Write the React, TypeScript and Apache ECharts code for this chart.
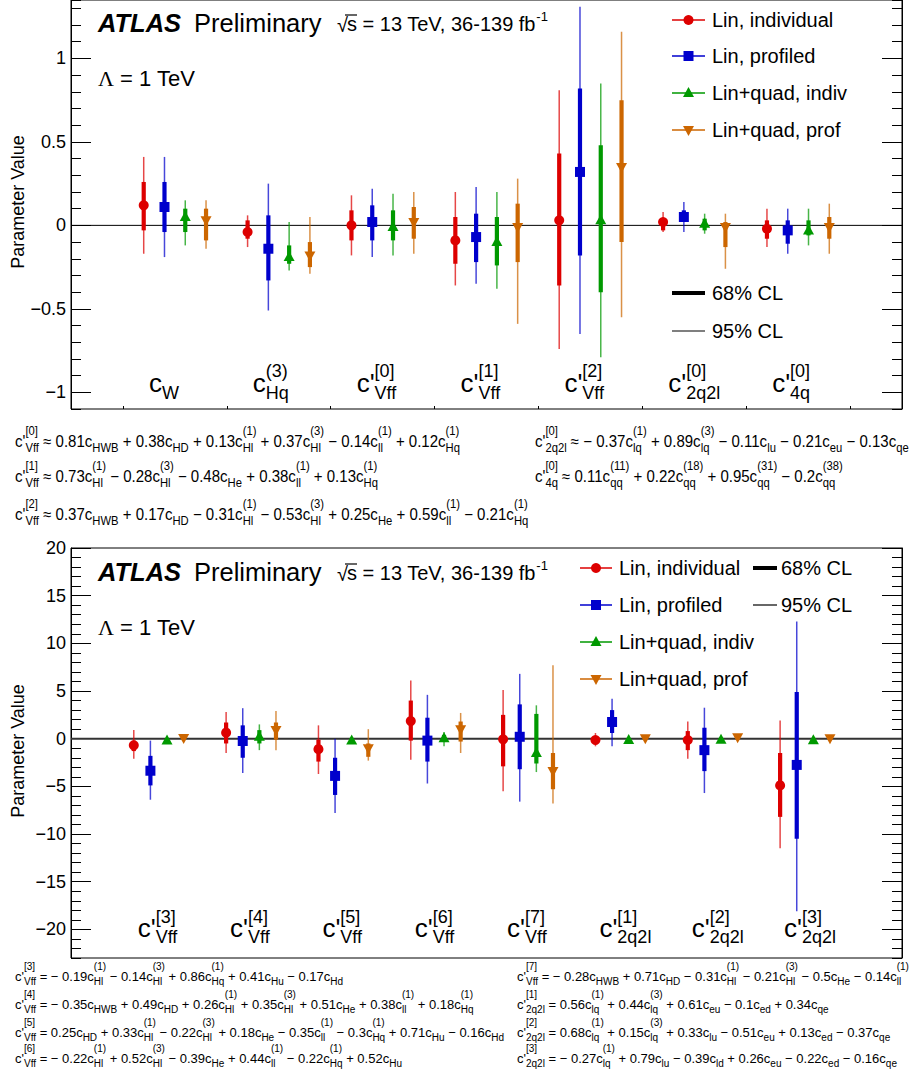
import React, { useEffect, useRef } from "react";
import * as echarts from "echarts";

const FAM = '"Liberation Sans", Arial, Helvetica, sans-serif';

// ---------------- DATA ----------------
const seriesNames = ["Lin, individual", "Lin, profiled", "Lin+quad, indiv", "Lin+quad, prof"];
const seriesColors = ["#dd0000", "#0000cc", "#009900", "#cc6600"];
const seriesMarkers = ["circle", "square", "triangleUp", "triangleDown"];

const topCategories = ["c_{W}", "c^{(3)}_{Hq}", "c'^{[0]}_{Vff}", "c'^{[1]}_{Vff}", "c'^{[2]}_{Vff}", "c'^{[0]}_{2q2l}", "c'^{[0]}_{4q}"];
const bottomCategories = ["c'^{[3]}_{Vff}", "c'^{[4]}_{Vff}", "c'^{[5]}_{Vff}", "c'^{[6]}_{Vff}", "c'^{[7]}_{Vff}", "c'^{[1]}_{2q2l}", "c'^{[2]}_{2q2l}", "c'^{[3]}_{2q2l}"];

// [central, lo68, hi68, lo95, hi95]
const topLinIndividual = [
  [0.12, -0.03, 0.26, -0.17, 0.41],
  [-0.04, -0.08, 0.03, -0.13, 0.06],
  [0.0, -0.09, 0.09, -0.18, 0.18],
  [-0.09, -0.23, 0.05, -0.36, 0.2],
  [0.03, -0.36, 0.43, -0.74, 0.81],
  [0.02, -0.03, 0.04, -0.04, 0.08],
  [-0.02, -0.08, 0.03, -0.13, 0.1],
];
const topLinProfiled = [
  [0.11, -0.04, 0.26, -0.19, 0.41],
  [-0.14, -0.33, 0.06, -0.51, 0.25],
  [0.02, -0.09, 0.12, -0.19, 0.22],
  [-0.07, -0.22, 0.07, -0.35, 0.23],
  [0.32, -0.18, 0.82, -0.65, 1.31],
  [0.05, 0.02, 0.09, -0.04, 0.14],
  [-0.03, -0.11, 0.03, -0.17, 0.1],
];
const topQuadIndiv = [
  [0.05, -0.04, 0.1, -0.12, 0.15],
  [-0.19, -0.23, -0.12, -0.27, 0.02],
  [-0.01, -0.09, 0.09, -0.18, 0.19],
  [-0.1, -0.24, 0.05, -0.38, 0.2],
  [0.03, -0.4, 0.48, -0.79, 0.85],
  [0.01, -0.03, 0.04, -0.05, 0.07],
  [-0.03, -0.06, 0.03, -0.12, 0.1],
];
const topQuadProf = [
  [0.03, -0.09, 0.1, -0.14, 0.15],
  [-0.18, -0.25, -0.1, -0.29, 0.05],
  [0.02, -0.08, 0.11, -0.17, 0.2],
  [-0.01, -0.22, 0.13, -0.59, 0.28],
  [0.35, -0.1, 0.75, -0.55, 1.16],
  [-0.01, -0.13, 0.02, -0.26, 0.07],
  [-0.01, -0.08, 0.05, -0.17, 0.13],
];

const bottomLinIndividual = [
  [-0.7, -1.3, -0.2, -2.1, 0.9],
  [0.63, -0.5, 1.7, -1.5, 2.8],
  [-1.1, -2.4, -0.1, -3.7, 1.4],
  [1.85, -0.2, 4.0, -2.2, 6.1],
  [-0.07, -2.9, 2.5, -5.5, 5.1],
  [-0.14, -0.6, 0.2, -0.8, 0.6],
  [-0.14, -1.2, 0.8, -2.1, 1.8],
  [-4.9, -8.2, -1.5, -11.5, 1.9],
];
const bottomLinProfiled = [
  [-3.36, -4.9, -1.8, -6.4, -0.2],
  [-0.24, -2.0, 1.4, -3.6, 3.2],
  [-3.9, -5.9, -2.0, -7.8, 0.0],
  [-0.2, -2.4, 2.2, -4.7, 4.6],
  [0.2, -3.2, 3.6, -6.6, 6.8],
  [1.75, 0.6, 3.0, -0.8, 4.2],
  [-1.2, -3.4, 1.15, -5.7, 3.25],
  [-2.75, -10.5, 4.9, -18.1, 12.3],
];
const bottomQuadIndiv = [
  [-0.2, -0.35, -0.05, -0.5, 0.1],
  [0.2, -0.5, 0.9, -1.2, 1.5],
  [-0.2, -0.35, -0.05, -0.5, 0.15],
  [0.05, -0.35, 0.4, -0.8, 0.7],
  [-1.5, -2.6, 2.6, -3.5, 3.5],
  [-0.14, -0.25, -0.03, -0.35, 0.1],
  [-0.1, -0.2, 0.0, -0.3, 0.1],
  [-0.15, -0.3, 0.0, -0.4, 0.1],
];
const bottomQuadProf = [
  [0.07, -0.05, 0.2, -0.15, 0.3],
  [0.9, -0.1, 1.7, -1.2, 2.9],
  [-1.0, -1.9, -0.5, -2.3, 1.0],
  [1.0, -0.3, 1.8, -1.5, 2.7],
  [-3.4, -5.3, -1.5, -6.8, 7.7],
  [0.04, -0.05, 0.15, -0.15, 0.25],
  [0.15, 0.05, 0.25, -0.05, 0.35],
  [0.04, -0.05, 0.15, -0.15, 0.25],
];

const topYTicks = [-1, -0.5, 0, 0.5, 1];
const bottomYTicks = [-20, -15, -10, -5, 0, 5, 10, 15, 20];

const topEqLeft = [
  "c'^{[0]}_{Vff} ≈ 0.81c_{HWB} + 0.38c_{HD} + 0.13c^{(1)}_{Hl} + 0.37c^{(3)}_{Hl} − 0.14c^{(1)}_{ll} + 0.12c^{(1)}_{Hq}",
  "c'^{[1]}_{Vff} ≈ 0.73c^{(1)}_{Hl} − 0.28c^{(3)}_{Hl} − 0.48c_{He} + 0.38c^{(1)}_{ll} + 0.13c^{(1)}_{Hq}",
  "c'^{[2]}_{Vff} ≈ 0.37c_{HWB} + 0.17c_{HD} − 0.31c^{(1)}_{Hl} − 0.53c^{(3)}_{Hl} + 0.25c_{He} + 0.59c^{(1)}_{ll} − 0.21c^{(1)}_{Hq}",
];
const topEqRight = [
  "c'^{[0]}_{2q2l} ≈ − 0.37c^{(1)}_{lq} + 0.89c^{(3)}_{lq} − 0.11c_{lu} − 0.21c_{eu} − 0.13c_{qe}",
  "c'^{[0]}_{4q} ≈ 0.11c^{(11)}_{qq} + 0.22c^{(18)}_{qq} + 0.95c^{(31)}_{qq} − 0.2c^{(38)}_{qq}",
];
const bottomEqLeft = [
  "c'^{[3]}_{Vff} = − 0.19c^{(1)}_{Hl} − 0.14c^{(3)}_{Hl} + 0.86c^{(1)}_{Hq} + 0.41c_{Hu} − 0.17c_{Hd}",
  "c'^{[4]}_{Vff} = − 0.35c_{HWB} + 0.49c_{HD} + 0.26c^{(1)}_{Hl} + 0.35c^{(3)}_{Hl} + 0.51c_{He} + 0.38c^{(1)}_{ll} + 0.18c^{(1)}_{Hq}",
  "c'^{[5]}_{Vff} = 0.25c_{HD} + 0.33c^{(1)}_{Hl} − 0.22c^{(3)}_{Hl} + 0.18c_{He} − 0.35c^{(1)}_{ll} − 0.3c^{(1)}_{Hq} + 0.71c_{Hu} − 0.16c_{Hd}",
  "c'^{[6]}_{Vff} = − 0.22c^{(1)}_{Hl} + 0.52c^{(3)}_{Hl} − 0.39c_{He} + 0.44c^{(1)}_{ll} − 0.22c^{(1)}_{Hq} + 0.52c_{Hu}",
];
const bottomEqRight = [
  "c'^{[7]}_{Vff} = − 0.28c_{HWB} + 0.71c_{HD} − 0.31c^{(1)}_{Hl} − 0.21c^{(3)}_{Hl} − 0.5c_{He} − 0.14c^{(1)}_{ll}",
  "c'^{[1]}_{2q2l} = 0.56c^{(1)}_{lq} + 0.44c^{(3)}_{lq} + 0.61c_{eu} − 0.1c_{ed} + 0.34c_{qe}",
  "c'^{[2]}_{2q2l} = 0.68c^{(1)}_{lq} + 0.15c^{(3)}_{lq} + 0.33c_{lu} − 0.51c_{eu} + 0.13c_{ed} − 0.37c_{qe}",
  "c'^{[3]}_{2q2l} = − 0.27c^{(1)}_{lq} + 0.79c_{lu} − 0.39c_{ld} + 0.26c_{eu} − 0.22c_{ed} − 0.16c_{qe}",
];

// ---------------- helpers ----------------
const topSeriesData = [topLinIndividual, topLinProfiled, topQuadIndiv, topQuadProf];
const bottomSeriesData = [bottomLinIndividual, bottomLinProfiled, bottomQuadIndiv, bottomQuadProf];
const topOffsets = [-0.3, -0.1, 0.1, 0.3];
const bottomOffsets = [-0.27, -0.09, 0.09, 0.27];

const cnv = typeof document !== "undefined" ? document.createElement("canvas") : null;
const ctx: any = cnv ? cnv.getContext("2d") : null;
function measure(t: string, size: number, fam = "Liberation Sans", weight = "normal", style = "normal") {
  ctx.font = `${style} ${weight} ${size}px "${fam}"`;
  return ctx.measureText(t).width;
}

const KC = 0.33;
function textEl(x: number, base: number, text: string, size: number, o: any = {}) {
  const align = o.align || "left";
  return {
    type: "text",
    x,
    y: base - KC * size,
    silent: true,
    z: 100,
    style: {
      text,
      fontSize: size,
      fontFamily: o.family || FAM,
      fontWeight: o.weight || "normal",
      fontStyle: o.fstyle || "normal",
      fill: o.fill || "#000",
      align,
      verticalAlign: "middle",
      textAlign: align,
      textVerticalAlign: "middle",
    },
  };
}

function parseLatex(src: string) {
  const out: any[] = [];
  let buf = "";
  let i = 0;
  while (i < src.length) {
    const ch = src[i];
    if (ch === "^" || ch === "_") {
      if (buf) out.push({ t: buf });
      buf = "";
      const scr: any = {};
      while (i < src.length && (src[i] === "^" || src[i] === "_")) {
        const kind = src[i];
        i += 2;
        let content = "";
        while (i < src.length && src[i] !== "}") {
          content += src[i];
          i++;
        }
        i++;
        if (kind === "^") scr.sup = content;
        else scr.sub = content;
      }
      out.push(scr);
    } else {
      buf += ch;
      i++;
    }
  }
  if (buf) out.push({ t: buf });
  return out;
}

function latex(src: string, x0: number, base: number, size: number, ss: number, supUp: number, subDown: number, scaleX = 1) {
  const parts = parseLatex(src);
  const ch: any[] = [];
  let x = 0;
  for (const p of parts) {
    if (p.t !== undefined) {
      const lead = p.t.length - p.t.replace(/^\s+/, "").length;
      const trimmed = p.t.trim();
      const xl = x + (lead ? measure(p.t.slice(0, lead), size) : 0);
      if (trimmed) ch.push(textEl(xl, base, trimmed, size));
      x += measure(p.t, size);
    } else {
      let w = 0;
      if (p.sup) {
        ch.push(textEl(x, base - supUp, p.sup, ss));
        w = Math.max(w, measure(p.sup, ss));
      }
      if (p.sub) {
        ch.push(textEl(x, base + subDown, p.sub, ss));
        w = Math.max(w, measure(p.sub, ss));
      }
      x += w;
    }
  }
  return { el: { type: "group", x: x0, y: 0, scaleX, children: ch }, width: x };
}

function markerShape(kind: string, cx: number, cy: number, color: string): any {
  if (kind === "circle") return { type: "circle", shape: { cx, cy, r: 5 }, style: { fill: color } };
  if (kind === "square") return { type: "rect", shape: { x: cx - 5, y: cy - 5, width: 10, height: 10 }, style: { fill: color } };
  if (kind === "triangleUp")
    return { type: "polygon", shape: { points: [[cx, cy - 6], [cx + 5.5, cy + 4], [cx - 5.5, cy + 4]] }, style: { fill: color } };
  return { type: "polygon", shape: { points: [[cx, cy + 6], [cx + 5.5, cy - 4], [cx - 5.5, cy - 4]] }, style: { fill: color } };
}

function makeRenderItem(color: string, marker: string) {
  return (_params: any, api: any) => {
    const x = api.value(0);
    const c = api.coord([x, api.value(1)]);
    const l68 = api.coord([x, api.value(2)]);
    const h68 = api.coord([x, api.value(3)]);
    const l95 = api.coord([x, api.value(4)]);
    const h95 = api.coord([x, api.value(5)]);
    return {
      type: "group",
      children: [
        { type: "line", shape: { x1: c[0], y1: l95[1], x2: c[0], y2: h95[1] }, style: { stroke: color, lineWidth: 1.5, opacity: 0.72 } },
        { type: "line", shape: { x1: c[0], y1: l68[1], x2: c[0], y2: h68[1] }, style: { stroke: color, lineWidth: 4.2 } },
        markerShape(marker, c[0], c[1], color),
      ],
    };
  };
}

function fmt(v: number) {
  if (Math.abs(v) < 1e-9) return "0";
  const s = String(Math.round(Math.abs(v) * 100) / 100);
  return v < 0 ? "\u2212" + s : s;
}

function yAxesFor(grid: number, min: number, max: number, minor: number, majors: number[]) {
  const base = {
    gridIndex: grid,
    type: "value",
    min,
    max,
    splitLine: { show: false },
  };
  return [
    {
      ...base,
      position: "left",
      interval: minor,
      axisLine: { show: true, onZero: false, lineStyle: { color: "#000", width: 1 } },
      axisTick: { show: true, inside: true, length: 10, lineStyle: { color: "#000", width: 1 } },
      axisLabel: { show: false },
    },
    {
      ...base,
      position: "left",
      axisLine: { show: false, onZero: false },
      axisTick: { show: true, inside: true, length: 20, customValues: majors, lineStyle: { color: "#000", width: 1 } },
      axisLabel: { show: true, customValues: majors, formatter: fmt, margin: 5, fontSize: 18, fontFamily: FAM, color: "#000" },
    },
    {
      ...base,
      position: "right",
      interval: minor,
      axisLine: { show: true, onZero: false, lineStyle: { color: "#000", width: 1 } },
      axisTick: { show: true, inside: true, length: 10, lineStyle: { color: "#000", width: 1 } },
      axisLabel: { show: false },
    },
    {
      ...base,
      position: "right",
      axisLine: { show: false, onZero: false },
      axisTick: { show: true, inside: true, length: 20, customValues: majors, lineStyle: { color: "#000", width: 1 } },
      axisLabel: { show: false },
    },
  ];
}

const TOP_X = [0, 8];
const BOT_X = [0.05, 9.05];

function baseOption(): any {
  const series: any[] = [];
  series.push({
    type: "line", xAxisIndex: 0, yAxisIndex: 0, silent: true, symbol: "none", z: 1,
    data: [[TOP_X[0], 0], [TOP_X[1], 0]], lineStyle: { color: "#000", width: 1 },
  });
  series.push({
    type: "line", xAxisIndex: 1, yAxisIndex: 4, silent: true, symbol: "none", z: 1,
    data: [[BOT_X[0], 0], [BOT_X[1], 0]], lineStyle: { color: "#333", width: 2 },
  });
  topSeriesData.forEach((arr, s) => {
    series.push({
      type: "custom", name: seriesNames[s], xAxisIndex: 0, yAxisIndex: 0, z: 3, silent: true,
      encode: { x: 0, y: 1 },
      renderItem: makeRenderItem(seriesColors[s], seriesMarkers[s]),
      data: arr.map((v, i) => [i + 1 + topOffsets[s], ...v]),
    });
  });
  bottomSeriesData.forEach((arr, s) => {
    series.push({
      type: "custom", name: seriesNames[s], xAxisIndex: 1, yAxisIndex: 4, z: 3, silent: true,
      encode: { x: 0, y: 1 },
      renderItem: makeRenderItem(seriesColors[s], seriesMarkers[s]),
      data: arr.map((v, i) => [i + 1 + bottomOffsets[s], ...v]),
    });
  });
  return {
    animation: false,
    backgroundColor: "#fff",
    grid: [
      { left: 71, top: -1, width: 831, height: 410, show: true, borderColor: "#000", borderWidth: 1, backgroundColor: "transparent" },
      { left: 71, top: 548, width: 831, height: 410, show: true, borderColor: "#000", borderWidth: 1, backgroundColor: "transparent" },
    ],
    xAxis: [
      {
        gridIndex: 0, type: "value", min: TOP_X[0], max: TOP_X[1],
        axisLine: { show: false, onZero: false },
        axisTick: { show: true, inside: true, length: 3, customValues: [0.5, 1.5, 2.5, 3.5, 4.5, 5.5, 6.5, 7.5], lineStyle: { color: "#000" } },
        axisLabel: { show: false }, splitLine: { show: false },
      },
      {
        gridIndex: 1, type: "value", min: BOT_X[0], max: BOT_X[1],
        axisLine: { show: false, onZero: false },
        axisTick: { show: false },
        axisLabel: { show: false }, splitLine: { show: false },
      },
    ],
    yAxis: [...yAxesFor(0, -1.1, 1.35, 0.1, topYTicks), ...yAxesFor(1, -23, 20, 1, bottomYTicks)],
    series,
  };
}

function panelHeader(els: any[], o: { atlasBase: number; lambdaBase: number }) {
  const xA = 98;
  els.push(textEl(xA, o.atlasBase, "ATLAS", 25.5, { weight: "bold", fstyle: "italic" }));
  els.push(textEl(194, o.atlasBase, "Preliminary", 25.5));
  const B = o.atlasBase;
  els.push(textEl(337, B + 1, "\u221A", 20));
  els.push({
    type: "line", silent: true, z: 100,
    shape: { x1: 345, y1: B - 16, x2: 357, y2: B - 16 },
    style: { stroke: "#000", lineWidth: 1.2 },
  });
  const main = "s = 13 TeV, 36-139 fb";
  els.push(textEl(347, B, main, 20));
  const wm = measure(main, 20);
  els.push(textEl(347 + wm + 0.5, B - 10, "-1", 13));
  els.push(textEl(xA, o.lambdaBase, "\u039B", 22, { family: '"Liberation Serif", "Times New Roman", serif' }));
  const wl = measure("\u039B", 22, "Liberation Serif");
  els.push(textEl(xA + wl + measure(" ", 22), o.lambdaBase, "= 1 TeV", 22));
}

function buildGraphics(chart: any) {
  const els: any[] = [];

  // ---------- top panel ----------
  panelHeader(els, { atlasBase: 31, lambdaBase: 86 });
  const topLegY = [20, 56, 93, 130];
  seriesNames.forEach((n, s) => {
    const y = topLegY[s];
    els.push({ type: "line", silent: true, z: 100, shape: { x1: 672, y1: y, x2: 705, y2: y }, style: { stroke: seriesColors[s], lineWidth: 1.5 } });
    els.push({ ...markerShape(seriesMarkers[s], 688.5, y, seriesColors[s]), silent: true, z: 100 });
    els.push(textEl(712, y + 7, n, 20));
  });
  els.push({ type: "line", silent: true, z: 100, shape: { x1: 672, y1: 293, x2: 705, y2: 293 }, style: { stroke: "#000", lineWidth: 4 } });
  els.push(textEl(712, 300, "68% CL", 20));
  els.push({ type: "line", silent: true, z: 100, shape: { x1: 672, y1: 331, x2: 705, y2: 331 }, style: { stroke: "#000", lineWidth: 1.2 } });
  els.push(textEl(712, 338, "95% CL", 20));

  // ---------- bottom panel ----------
  panelHeader(els, { atlasBase: 580, lambdaBase: 635 });
  const botLegY = [568, 605, 642, 679];
  seriesNames.forEach((n, s) => {
    const y = botLegY[s];
    els.push({ type: "line", silent: true, z: 100, shape: { x1: 580, y1: y, x2: 612, y2: y }, style: { stroke: seriesColors[s], lineWidth: 1.5 } });
    els.push({ ...markerShape(seriesMarkers[s], 596, y, seriesColors[s]), silent: true, z: 100 });
    els.push(textEl(619, y + 7, n, 20));
  });
  els.push({ type: "line", silent: true, z: 100, shape: { x1: 753, y1: 568, x2: 777, y2: 568 }, style: { stroke: "#000", lineWidth: 4 } });
  els.push(textEl(781, 575, "68% CL", 20));
  els.push({ type: "line", silent: true, z: 100, shape: { x1: 753, y1: 605, x2: 777, y2: 605 }, style: { stroke: "#000", lineWidth: 1.2 } });
  els.push(textEl(781, 612, "95% CL", 20));

  // ---------- y titles ----------
  [[18, 202], [18, 751]].forEach(([x, y]) => {
    els.push({
      type: "text", x, y, rotation: Math.PI / 2, silent: true, z: 100,
      style: { text: "Parameter Value", fontSize: 18, fontFamily: FAM, fill: "#000", align: "center", verticalAlign: "middle", textAlign: "center", textVerticalAlign: "middle" },
    });
  });

  // ---------- category labels ----------
  topCategories.forEach((lab, i) => {
    const cx = chart.convertToPixel({ xAxisIndex: 0 }, i + 1);
    els.push(latex(lab, cx - 26, 392, 26, 18, 15, 7).el);
  });
  bottomCategories.forEach((lab, i) => {
    const cx = chart.convertToPixel({ xAxisIndex: 1 }, i + 1);
    els.push(latex(lab, cx - 21, 937, 26, 18, 14, 6).el);
  });

  // ---------- equations ----------
  const nat = latex(topEqLeft[0], 0, 0, 16, 12, 13, 4).width;
  const sx = 445 / nat;
  const topBases = [447, 482, 520];
  topEqLeft.forEach((eq, k) => els.push(latex(eq, 15, topBases[k], 16, 12, 13, 4, sx).el));
  topEqRight.forEach((eq, k) => els.push(latex(eq, 535, topBases[k], 16, 12, 13, 4, sx).el));
  const botBases = [981, 1009, 1037, 1063];
  bottomEqLeft.forEach((eq, k) => els.push(latex(eq, 15, botBases[k], 13, 10, 11, 4).el));
  bottomEqRight.forEach((eq, k) => els.push(latex(eq, 517, botBases[k], 13, 10, 11, 4).el));

  return { elements: els };
}

export default function App() {
  const ref = useRef<HTMLDivElement>(null);
  useEffect(() => {
    const chart = echarts.init(ref.current!, null, { renderer: "svg" });
    chart.setOption(baseOption());
    chart.setOption({ graphic: buildGraphics(chart) });
    return () => chart.dispose();
  }, []);
  return <div ref={ref} style={{ position: "absolute", left: 0, top: 0, width: 912, height: 1077, background: "#fff" }} />;
}
